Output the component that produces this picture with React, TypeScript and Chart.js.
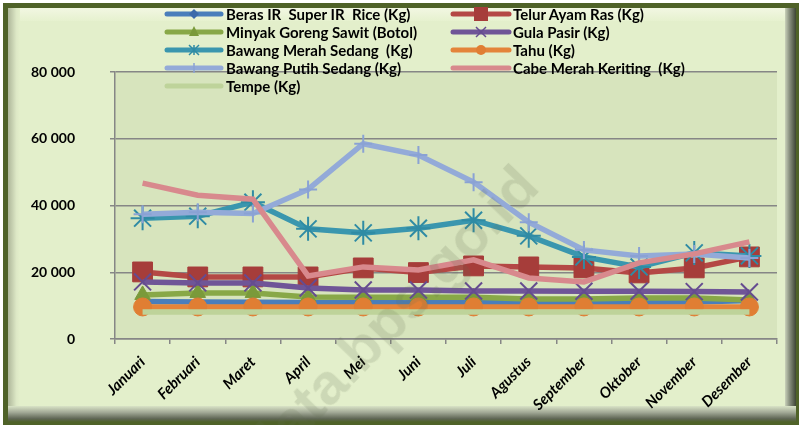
import React, { useEffect, useRef } from "react";
import { Chart, registerables } from "chart.js";

Chart.register(...registerables);

const months = [
  "Januari", "Februari", "Maret", "April", "Mei", "Juni",
  "Juli", "Agustus", "September", "Oktober", "November", "Desember",
];

const berasIR = [11200, 11100, 11000, 10900, 10900, 10900, 11000, 11000, 11000, 11000, 11100, 11500];
const telurAyam = [20100, 18600, 18600, 18600, 21300, 19900, 21900, 21600, 21300, 19800, 21300, 24600];
const minyakGoreng = [13200, 13800, 13800, 12600, 12500, 12500, 12500, 12000, 12000, 12300, 12300, 11700];
const gulaPasir = [17100, 16800, 16800, 15300, 14700, 14700, 14400, 14400, 14300, 14300, 14200, 14100];
const bawangMerah = [36200, 36800, 41000, 33000, 31800, 33200, 35600, 30900, 24600, 21600, 25800, 24900];
const tahu = [9600, 9600, 9600, 9600, 9600, 9600, 9600, 9600, 9600, 9600, 9600, 9600];
const bawangPutih = [37400, 38000, 37600, 44800, 58500, 55100, 47000, 35000, 26700, 24900, 25500, 24300];
const cabeMerah = [46700, 43100, 41900, 18900, 21600, 20700, 23700, 18300, 17100, 22800, 25500, 29100];
const tempe = [8100, 8100, 8100, 8100, 8100, 8100, 8100, 8100, 8100, 8100, 8100, 8100];

const yTicks = [0, 20000, 40000, 60000, 80000];

const seriesNames = [
  "Beras IR  Super IR  Rice (Kg)",
  "Telur Ayam Ras (Kg)",
  "Minyak Goreng Sawit (Botol)",
  "Gula Pasir (Kg)",
  "Bawang Merah Sedang  (Kg)",
  "Tahu (Kg)",
  "Bawang Putih Sedang (Kg)",
  "Cabe Merah Keriting  (Kg)",
  "Tempe (Kg)",
];

const seriesData = [berasIR, telurAyam, minyakGoreng, gulaPasir, bawangMerah, tahu, bawangPutih, cabeMerah, tempe];

type Style = {
  line: string;
  point: string;
  pointStyle: any;
  radius: number;
  legendRadius: number;
  fill: boolean;
};

const styles: Style[] = [
  { line: "#4A7EBB", point: "#3B6AAA", pointStyle: "rectRot", radius: 6, legendRadius: 5, fill: true },
  { line: "#B44845", point: "#A63D3A", pointStyle: "rect", radius: 14, legendRadius: 7, fill: true },
  { line: "#88A847", point: "#7A9A3A", pointStyle: "triangle", radius: 9, legendRadius: 5, fill: true },
  { line: "#6F5597", point: "#654C90", pointStyle: "crossRot", radius: 12, legendRadius: 5, fill: false },
  { line: "#3A96AE", point: "#2F8BA4", pointStyle: "star", radius: 12, legendRadius: 5, fill: false },
  { line: "#E4843A", point: "#E07E33", pointStyle: "circle", radius: 9, legendRadius: 5, fill: true },
  { line: "#93AAD8", point: "#8AA2D4", pointStyle: "cross", radius: 9, legendRadius: 5, fill: false },
  { line: "#D8898D", point: "#D8898D", pointStyle: false, radius: 0, legendRadius: 0, fill: true },
  { line: "#BED39A", point: "#BED39A", pointStyle: false, radius: 0, legendRadius: 0, fill: true },
];

const fmt = (v: number) => {
  const s = String(Math.round(v));
  return s.replace(/\B(?=(\d{3})+(?!\d))/g, " ");
};

function LegendMarker({ st, cx, cy }: { st: Style; cx: number; cy: number }) {
  const r = st.legendRadius;
  const c = st.point;
  switch (st.pointStyle) {
    case "rectRot":
      return <polygon points={`${cx},${cy - r} ${cx + r},${cy} ${cx},${cy + r} ${cx - r},${cy}`} fill={c} />;
    case "rect":
      return <rect x={cx - r} y={cy - r} width={2 * r} height={2 * r} fill={c} />;
    case "triangle":
      return <polygon points={`${cx},${cy - r - 1} ${cx + r},${cy + r - 1} ${cx - r},${cy + r - 1}`} fill={c} />;
    case "circle":
      return <circle cx={cx} cy={cy} r={r} fill={c} />;
    case "crossRot":
      return (
        <g stroke={c} strokeWidth={1.5}>
          <line x1={cx - r} y1={cy - r} x2={cx + r} y2={cy + r} />
          <line x1={cx - r} y1={cy + r} x2={cx + r} y2={cy - r} />
        </g>
      );
    case "star":
      return (
        <g stroke={c} strokeWidth={1.5}>
          <line x1={cx - r} y1={cy - r} x2={cx + r} y2={cy + r} />
          <line x1={cx - r} y1={cy + r} x2={cx + r} y2={cy - r} />
          <line x1={cx} y1={cy - r} x2={cx} y2={cy + r} />
        </g>
      );
    case "cross":
      return (
        <g stroke={c} strokeWidth={1.5}>
          <line x1={cx} y1={cy - r} x2={cx} y2={cy + r} />
        </g>
      );
    default:
      return null;
  }
}

export default function App() {
  const ref = useRef<HTMLCanvasElement>(null);

  useEffect(() => {
    if (!ref.current) return;
    const plotBg = {
      id: "plotBg",
      beforeDraw(chart: any) {
        const { ctx, chartArea } = chart;
        ctx.save();
        ctx.fillStyle = "#D7E4BD";
        ctx.fillRect(chartArea.left, chartArea.top, chartArea.right - chartArea.left, chartArea.bottom - chartArea.top);
        ctx.restore();
      },
    };

    const datasets = seriesData.map((d, i) => {
      const st = styles[i];
      return {
        label: seriesNames[i],
        data: d,
        borderColor: st.line,
        backgroundColor: st.line,
        borderWidth: 5.5,
        tension: 0,
        pointStyle: st.pointStyle,
        pointRadius: st.radius,
        pointHoverRadius: st.radius,
        pointBackgroundColor: st.fill ? st.point : "transparent",
        pointBorderColor: st.point,
        pointBorderWidth: st.fill ? 1 : 2,
        order: seriesData.length - i,
        fill: false,
      };
    });

    const chart = new Chart(ref.current, {
      type: "line",
      data: { labels: months, datasets },
      options: {
        animation: false,
        responsive: false,
        devicePixelRatio: 1,
        layout: { padding: { left: 0, top: 72, right: 22, bottom: 0 } },
        plugins: {
          legend: { display: false },
          tooltip: { enabled: false },
        },
        scales: {
          x: {
            offset: true,
            grid: {
              offset: true,
              drawOnChartArea: false,
              drawTicks: true,
              tickLength: 5,
              color: "#868686",
              lineWidth: 1.5,
            },
            border: { display: true, color: "#868686", width: 1.5 },
            ticks: {
              autoSkip: false,
              minRotation: 45,
              maxRotation: 45,
              padding: 9,
              color: "#000",
              font: { family: "Lato", size: 15, weight: "bold", style: "italic" },
            },
            afterFit(s: any) {
              s.height = 86;
            },
          },
          y: {
            min: 0,
            max: 80000,
            afterBuildTicks(s: any) {
              s.ticks = yTicks.map((v) => ({ value: v }));
            },
            ticks: {
              padding: 35,
              color: "#000",
              font: { family: "Lato", size: 14, weight: "bold" },
              callback: (v: any) => fmt(Number(v)),
            },
            grid: { color: "#868686", lineWidth: 1.5, tickLength: 5, drawTicks: true },
            border: { display: true, color: "#868686", width: 1.5 },
            afterFit(s: any) {
              s.width = 115;
            },
          },
        },
      },
      plugins: [plotBg],
    } as any);
    return () => chart.destroy();
  }, []);

  const rows = [14, 32, 50, 68, 86];
  const cols = [
    { lx1: 167, lx2: 221, tx: 226 },
    { lx1: 453, lx2: 509, tx: 513 },
  ];

  return (
    <div style={{ position: "fixed", left: 0, top: 0, width: 799, height: 425, background: "#ffffff", overflow: "hidden" }}>
      <div style={{ position: "absolute", left: 3, top: 3, width: 796, height: 422, background: "#4F6228" }} />
      <div style={{ position: "absolute", left: 8, top: 8, width: 788, height: 414, background: "#E3EFCB" }} />
      <div style={{ position: "absolute", left: 8, top: 8, width: 788, height: 13, background: "linear-gradient(#F2F7E2, #E6F1CF)" }} />
      <div style={{ position: "absolute", left: 8, top: 8, width: 12, height: 414, background: "linear-gradient(90deg, #AEB79A, #DDE8C6 70%, #E3EFCB)" }} />
      <div style={{ position: "absolute", left: 785, top: 8, width: 11, height: 414, background: "linear-gradient(90deg, #C9D1BA, #8A9180 40%, #3E4535)" }} />
      <div style={{ position: "absolute", left: 8, top: 406, width: 788, height: 16, background: "linear-gradient(#D9E3C6, #A2A996 40%, #5E6554 80%, #4F6228)" }} />
      <canvas ref={ref} width={799} height={425} style={{ position: "absolute", left: 0, top: 0, width: 799, height: 425 }} />
      <svg width={799} height={100} style={{ position: "absolute", left: 0, top: 0 }}>
        {seriesNames.map((_, i) => {
          const col = cols[i % 2];
          const y = rows[Math.floor(i / 2)];
          const st = styles[i];
          return (
            <g key={i}>
              <line x1={col.lx1} y1={y} x2={col.lx2} y2={y} stroke={st.line} strokeWidth={5} strokeLinecap="round" />
              <LegendMarker st={st} cx={(col.lx1 + col.lx2) / 2} cy={y} />
            </g>
          );
        })}
      </svg>
      {seriesNames.map((name, i) => {
        const col = cols[i % 2];
        const y = rows[Math.floor(i / 2)];
        return (
          <div
            key={i}
            style={{
              position: "absolute",
              left: col.tx,
              top: y - 10,
              height: 20,
              lineHeight: "20px",
              fontFamily: "Lato",
              fontWeight: "bold",
              fontSize: 15,
              color: "#000",
              whiteSpace: "pre",
            }}
          >
            {name}
          </div>
        );
      })}
      <div
        style={{
          position: "absolute",
          left: 254,
          top: 429,
          lineHeight: "58px",
          fontFamily: "Liberation Sans",
          fontWeight: "bold",
          fontSize: 58,
          color: "rgba(95,105,75,0.17)",
          whiteSpace: "nowrap",
          transform: "rotate(-46deg)",
          transformOrigin: "0 50%",
          pointerEvents: "none",
        }}
      >
        data.bps.go.id
      </div>
    </div>
  );
}
